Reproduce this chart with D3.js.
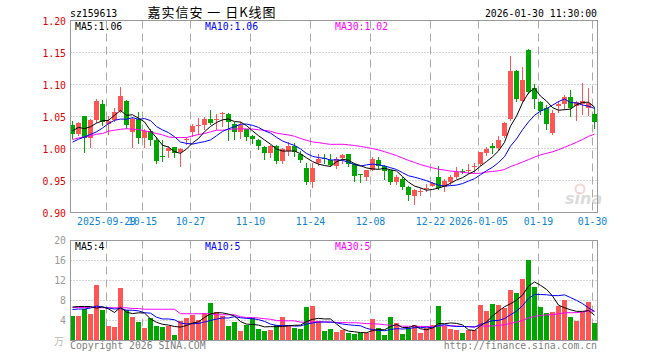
<!DOCTYPE html>
<html>
<head>
<meta charset="utf-8">
<script src="https://cdn.jsdelivr.net/npm/d3@7"></script>
<style>
  body { margin: 0; background: #fff; }
  svg { display: block; }
  text { font-family: "DejaVu Sans Mono", monospace; }
</style>
</head>
<body>
<div id="chart"></div>
<script>
// trading days shown, 2025-09-19 .. 2026-01-30
const dates = [
  "2025-09-19","2025-09-22","2025-09-23","2025-09-24","2025-09-25","2025-09-26","2025-09-29","2025-09-30",
  "2025-10-09","2025-10-10","2025-10-13","2025-10-14","2025-10-15","2025-10-16","2025-10-17","2025-10-20",
  "2025-10-21","2025-10-22","2025-10-23","2025-10-24","2025-10-27","2025-10-28","2025-10-29","2025-10-30",
  "2025-10-31","2025-11-03","2025-11-04","2025-11-05","2025-11-06","2025-11-07","2025-11-10","2025-11-11",
  "2025-11-12","2025-11-13","2025-11-14","2025-11-17","2025-11-18","2025-11-19","2025-11-20","2025-11-21",
  "2025-11-24","2025-11-25","2025-11-26","2025-11-27","2025-11-28","2025-12-01","2025-12-02","2025-12-03",
  "2025-12-04","2025-12-05","2025-12-08","2025-12-09","2025-12-10","2025-12-11","2025-12-12","2025-12-15",
  "2025-12-16","2025-12-17","2025-12-18","2025-12-19","2025-12-22","2025-12-23","2025-12-24","2025-12-25",
  "2025-12-26","2025-12-29","2025-12-30","2025-12-31","2026-01-05","2026-01-06","2026-01-07","2026-01-08",
  "2026-01-09","2026-01-12","2026-01-13","2026-01-14","2026-01-15","2026-01-16","2026-01-19","2026-01-20",
  "2026-01-21","2026-01-22","2026-01-23","2026-01-26","2026-01-27","2026-01-28","2026-01-29","2026-01-30"
];

const openP = [
  1.036,1.022,1.050,1.017,1.045,1.069,1.038,1.045,1.058,1.074,1.026,1.046,1.016,1.027,1.013,0.989,
  0.996,1.002,0.995,1.014,1.026,1.035,1.036,1.046,1.045,1.055,1.054,1.039,1.026,1.030,1.020,1.014,
  1.003,0.993,1.004,0.980,0.996,1.004,0.992,0.969,0.948,0.977,0.985,0.982,0.972,0.985,0.991,0.976,
  0.960,0.956,0.967,0.982,0.973,0.966,0.948,0.953,0.940,0.926,0.932,0.937,0.942,0.955,0.940,0.948,
  0.956,0.965,0.966,0.972,0.976,0.993,1.004,1.001,1.020,1.046,1.121,1.074,1.154,1.094,1.073,1.063,
  1.025,1.066,1.070,1.081,1.066,1.070,1.063,1.054
];
const highP = [
  1.043,1.041,1.050,1.046,1.078,1.076,1.050,1.064,1.096,1.076,1.049,1.057,1.031,1.031,1.018,1.014,
  1.004,1.003,1.001,1.018,1.038,1.048,1.049,1.060,1.054,1.057,1.055,1.042,1.041,1.031,1.021,1.015,
  1.004,1.005,1.006,1.001,1.010,1.008,0.996,0.978,0.978,0.992,0.992,0.992,0.986,0.992,0.992,0.978,
  0.960,0.967,0.987,0.987,0.975,0.967,0.958,0.955,0.941,0.937,0.939,0.944,0.948,0.973,0.952,0.959,
  0.971,0.968,0.976,0.978,0.995,1.002,1.008,1.019,1.042,1.144,1.122,1.127,1.155,1.101,1.075,1.068,
  1.060,1.074,1.083,1.092,1.075,1.103,1.095,1.065
];
const lowP = [
  1.017,1.021,0.995,1.003,1.041,1.036,1.023,1.043,1.057,1.032,1.003,1.009,1.003,1.006,0.978,0.981,
  0.987,0.987,0.973,1.007,1.020,1.023,1.030,1.038,1.030,1.035,1.013,1.015,1.017,1.013,1.008,1.000,
  0.983,0.987,0.977,0.978,0.990,0.988,0.979,0.944,0.940,0.974,0.978,0.973,0.969,0.978,0.972,0.950,
  0.948,0.951,0.966,0.970,0.952,0.945,0.944,0.937,0.920,0.914,0.927,0.934,0.941,0.936,0.934,0.945,
  0.954,0.962,0.961,0.963,0.974,0.990,0.993,0.997,1.018,1.044,1.075,1.073,1.086,1.063,1.054,1.030,
  1.023,1.057,1.062,1.050,1.044,1.054,1.053,1.032
];
const closeP = [
  1.022,1.040,1.017,1.045,1.074,1.041,1.043,1.057,1.082,1.036,1.046,1.016,1.028,1.013,0.981,0.988,
  1.001,0.993,0.999,1.015,1.035,1.036,1.046,1.040,1.046,1.056,1.042,1.026,1.037,1.018,1.015,1.004,
  0.993,1.004,0.980,0.999,1.004,0.994,0.982,0.948,0.970,0.984,0.983,0.975,0.984,0.990,0.976,0.957,
  0.959,0.966,0.983,0.972,0.965,0.948,0.956,0.940,0.928,0.935,0.933,0.938,0.946,0.939,0.950,0.955,
  0.964,0.964,0.967,0.973,0.994,1.000,1.001,1.013,1.040,1.121,1.077,1.107,1.089,1.077,1.059,1.039,
  1.055,1.069,1.081,1.064,1.072,1.074,1.071,1.042
];
// volume, 万
const volume = [
  4.87,4.87,6.27,5.27,11.07,6.13,2.87,2.67,10.47,6.2,4.67,3.67,2.47,4.53,2.87,2.67,
  2.87,1.07,3.93,4.47,5.07,4.13,5.47,7.47,5.67,4.87,2.87,3.67,1.87,3.13,4.47,2.27,
  1.87,2.13,3.07,4.67,2.87,2.47,2.27,6.67,6.87,3.87,1.87,2.27,1.67,2.07,1.47,1.27,
  1.47,1.47,4.27,2.47,1.07,4.67,3.47,1.27,2.47,3.07,1.47,2.47,3.07,6.87,2.87,2.27,
  2.07,1.47,2.07,2.07,7.07,5.87,7.27,7.07,6.47,10.07,9.47,12.27,16.07,10.67,6.67,5.47,
  5.67,6.87,8.07,4.67,3.87,5.67,7.67,3.47
];

// moving-average values before a full window exists
const ma5Head = [1.0275, 1.033, 1.031, 1.034];
const ma10Head = [1.010, 1.0145, 1.018, 1.022, 1.026, 1.032, 1.039, 1.044, 1.046];
const ma30Head = [1.014, 1.0166, 1.018, 1.0197, 1.0223, 1.0234, 1.027, 1.0286, 1.030, 1.031,
  1.030, 1.0297, 1.0275, 1.026, 1.0234, 1.0213, 1.018, 1.0172, 1.0172, 1.017,
  1.0197, 1.0218, 1.0234, 1.026, 1.0286, 1.0286, 1.0297, 1.0307, 1.0307];
const vma5Head = [6.7, 6.8, 6.8, 6.8];
const vma10Head = [6.2, 6.3, 6.3, 6.5, 6.9, 6.7, 6.5, 6.3, 6.4];
const vma30Head = [6.6, 6.6, 6.6, 6.6, 6.6, 6.55, 6.55, 6.55, 6.55, 6.55,
  6.4, 6.4, 6.25, 6.25, 6.25, 6.25, 6.25, 6.25, 5.35, 5.35,
  5.35, 5.35, 5.35, 5.35, 5.15, 5.15, 5.15, 5.15, 4.75];

const priceTicks = [1.20, 1.15, 1.10, 1.05, 1.00, 0.95, 0.90];
const volTicks = [20, 16, 12, 8, 4];
const dateTickIdx = [6, 12, 20, 30, 40, 50, 60, 68, 78, 87];
const dateTickLabels = ["2025-09-29", "10-15", "10-27", "11-10", "11-24", "12-08", "12-22", "2026-01-05", "01-19", "01-30"];

const W = 660, H = 360;
const left = 70.5, right = 597.5;
const mainTop = 20.5, mainBottom = 212.5;
const volTop = 240.5, volBottom = 340.5;

const upColor = "#ff5555", downColor = "#00a600";
const gridColor = "#aaaaaa";

const svg = d3.select("#chart").append("svg")
  .attr("width", W)
  .attr("height", H);

const x = d3.scaleLinear().domain([0, dates.length - 1]).range([72.5, 72.5 + 6 * (dates.length - 1)]);
const y = d3.scaleLinear().domain([0.90, 1.20]).range([mainBottom, mainTop]);
const yv = d3.scaleLinear().domain([0, 20]).range([volBottom, volTop]);

function movingAvg(values, n, head) {
  return values.map((v, i) => i < n - 1 ? head[i] : d3.mean(values.slice(i - n + 1, i + 1)));
}

// ---------- header ----------
svg.append("text").attr("x", 70).attr("y", 17)
  .style("font-size", "9.8px").text("sz159613");
svg.append("text").attr("x", 212).attr("y", 17)
  .attr("text-anchor", "middle")
  .style("font-family", "'Noto Sans CJK SC', sans-serif")
  .style("font-size", "13px")
  .style("letter-spacing", "1px")
  .text("嘉实信安 一 日K线图");
svg.append("text").attr("x", 597).attr("y", 17)
  .attr("text-anchor", "end")
  .style("font-size", "9.8px").text("2026-01-30 11:30:00");

// ---------- grids ----------
function panelGrid(yScale, ticks, top, bottom) {
  svg.append("g").selectAll("line").data(ticks).enter().append("line")
    .attr("x1", left).attr("x2", right)
    .attr("y1", d => yScale(d)).attr("y2", d => yScale(d))
    .attr("stroke", gridColor)
    .attr("stroke-dasharray", "1,2");
  svg.append("g").selectAll("line").data(dateTickIdx).enter().append("line")
    .attr("x1", d => x(d) - 2).attr("x2", d => x(d) - 2)
    .attr("y1", top).attr("y2", bottom)
    .attr("stroke", gridColor)
    .attr("stroke-dasharray", "8,5");
}
panelGrid(y, priceTicks.slice(1, -1), mainTop, mainBottom);
panelGrid(yv, volTicks.slice(1), volTop, volBottom);

// ---------- watermark ----------
const logo = svg.append("g").attr("opacity", 0.35);
logo.append("circle").attr("cx", 580).attr("cy", 189).attr("r", 4.5)
  .attr("fill", "none").attr("stroke", "#e88").attr("stroke-width", 2);
logo.append("text").attr("x", 565).attr("y", 204)
  .style("font-family", "'DejaVu Sans', sans-serif")
  .style("font-size", "16px").style("font-weight", "bold").style("font-style", "italic")
  .attr("fill", "#999").text("sina");

// ---------- candles ----------
const candles = svg.append("g").attr("shape-rendering", "crispEdges");
dates.forEach((d, i) => {
  const o = openP[i], c = closeP[i];
  const col = c >= o ? upColor : downColor;
  const cx = x(i);
  candles.append("line")
    .attr("x1", cx).attr("x2", cx)
    .attr("y1", Math.round(y(highP[i]))).attr("y2", Math.round(y(lowP[i])) + 1)
    .attr("stroke", col);
  const top = Math.round(y(Math.max(o, c)));
  const bot = Math.round(y(Math.min(o, c)));
  candles.append("rect")
    .attr("x", cx - 2.5).attr("width", 5)
    .attr("y", top).attr("height", Math.max(1, bot - top))
    .attr("fill", col);
});

// ---------- volume bars ----------
svg.append("g").attr("shape-rendering", "crispEdges")
  .selectAll("rect").data(volume).enter().append("rect")
  .attr("x", (d, i) => x(i) - 2.5).attr("width", 5)
  .attr("y", d => Math.round(yv(d)))
  .attr("height", d => volBottom - Math.round(yv(d)))
  .attr("fill", (d, i) => closeP[i] >= openP[i] ? upColor : downColor);

// ---------- moving averages ----------
const maSpecs = [
  { data: movingAvg(closeP, 30, ma30Head), scale: y, color: "#ff00ff" },
  { data: movingAvg(closeP, 10, ma10Head), scale: y, color: "#0000ff" },
  { data: movingAvg(closeP, 5, ma5Head), scale: y, color: "#000000" },
  { data: movingAvg(volume, 30, vma30Head), scale: yv, color: "#ff00ff" },
  { data: movingAvg(volume, 10, vma10Head), scale: yv, color: "#0000ff" },
  { data: movingAvg(volume, 5, vma5Head), scale: yv, color: "#000000" }
];
maSpecs.forEach(s => {
  svg.append("path")
    .datum(s.data)
    .attr("d", d3.line().x((d, i) => x(i)).y(d => s.scale(d)))
    .attr("fill", "none")
    .attr("stroke", s.color)
    .attr("stroke-width", 1);
});

// ---------- frames ----------
[[mainTop, mainBottom], [volTop, volBottom]].forEach(([t, b]) => {
  svg.append("rect")
    .attr("x", left).attr("y", t)
    .attr("width", right - left).attr("height", b - t)
    .attr("fill", "none")
    .attr("stroke", "#999999");
});

// ---------- axis labels ----------
svg.append("g").selectAll("text").data(priceTicks).enter().append("text")
  .attr("x", 66).attr("y", d => y(d) + 4)
  .attr("text-anchor", "end")
  .attr("fill", "#e00000")
  .style("font-size", "9.8px")
  .text(d => d.toFixed(2));

svg.append("g").selectAll("text").data(volTicks).enter().append("text")
  .attr("x", 66).attr("y", d => yv(d) + 3.5)
  .attr("text-anchor", "end")
  .attr("fill", "#999999")
  .style("font-size", "9.8px")
  .text(d => d);
svg.append("text").attr("x", 64).attr("y", 345)
  .attr("text-anchor", "end")
  .attr("fill", "#bbbbbb")
  .style("font-family", "'Noto Sans CJK SC', sans-serif")
  .style("font-size", "10px")
  .text("万");

svg.append("g").selectAll("text").data(dateTickIdx).enter().append("text")
  .attr("x", d => x(d) - 2).attr("y", 225)
  .attr("text-anchor", "middle")
  .attr("fill", "#0a84d6")
  .style("font-size", "9.8px")
  .text((d, i) => dateTickLabels[i]);

// ---------- MA legends ----------
const legendX = [75, 205, 335];
const maColors = ["#000000", "#0000ff", "#ff00ff"];
const mainLegend = ["MA5:1.06", "MA10:1.06", "MA30:1.02"];
const volLegend = ["MA5:4", "MA10:5", "MA30:5"];
mainLegend.forEach((t, i) => {
  svg.append("text").attr("x", legendX[i]).attr("y", 29.5)
    .attr("fill", maColors[i]).style("font-size", "9.8px").text(t);
});
volLegend.forEach((t, i) => {
  svg.append("text").attr("x", legendX[i]).attr("y", 249.5)
    .attr("fill", maColors[i]).style("font-size", "9.8px").text(t);
});

// ---------- footer ----------
svg.append("text").attr("x", 70).attr("y", 349)
  .attr("fill", "#808080").style("font-size", "9.8px")
  .text("Copyright 2026 SINA.COM");
svg.append("text").attr("x", 597).attr("y", 349)
  .attr("text-anchor", "end")
  .attr("fill", "#808080").style("font-size", "9.8px")
  .text("http://finance.sina.com.cn");
</script>
</body>
</html>
